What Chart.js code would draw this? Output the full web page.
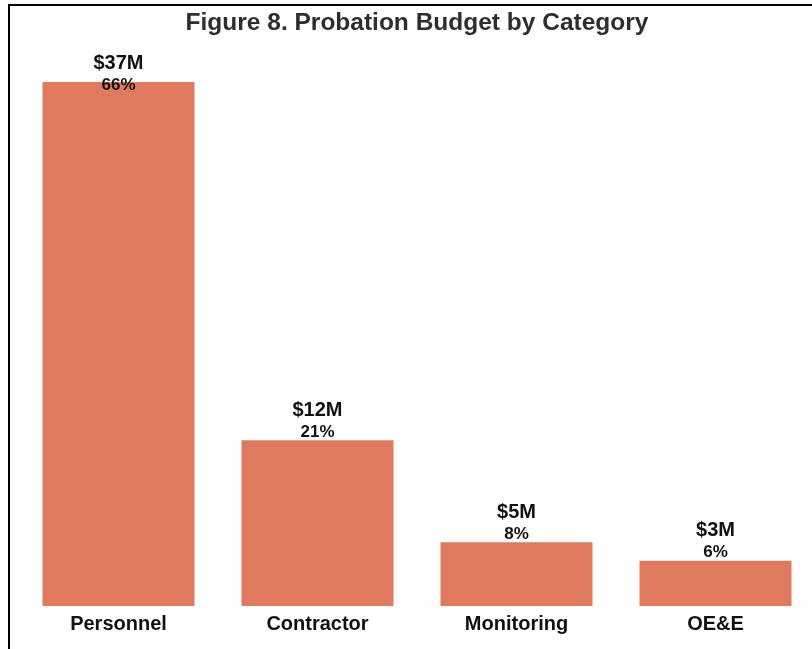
<!DOCTYPE html>
<html lang="en">
<head>
  <meta charset="UTF-8">
  <title>Probation Budget by Category</title>
  <script src="https://cdn.jsdelivr.net/npm/chart.js"></script>
  <style>
    html, body {
      margin: 0;
      padding: 0;
      background: #fff;
      overflow: hidden;
    }

    .frame {
      position: absolute;
      left: 8px;
      top: 4px;
      width: 830px;
      height: 660px;
      border-top: 2px solid #000;
      border-left: 2px solid #000;
    }
  </style>
</head>
<body>
  <div class="frame">
    <canvas id="chart" width="820" height="643"></canvas>
  </div>

  <script>
    const categories = ["Personnel", "Contractor", "Monitoring", "OE&E"];
    const amounts = [37.0, 11.7, 4.5, 3.2]; // $M
    const amountLabels = ["$37M", "$12M", "$5M", "$3M"];
    const shareLabels = ["66%", "21%", "8%", "6%"];

    const FONT = "'Liberation Sans', Arial, sans-serif";

    // two-line labels above each bar, kept inside the plot area
    const barLabels = {
      id: 'barLabels',
      afterDatasetsDraw(chart) {
        const ctx = chart.ctx;
        const bars = chart.getDatasetMeta(0).data;
        ctx.save();
        ctx.textAlign = 'center';
        ctx.textBaseline = 'middle';
        ctx.fillStyle = '#111';
        bars.forEach((bar, i) => {
          const y1 = Math.max(bar.y - 30, chart.chartArea.top + 7);
          ctx.font = "bold 20px " + FONT;
          ctx.fillText(amountLabels[i], bar.x, y1);
          ctx.font = "bold 17px " + FONT;
          ctx.fillText(shareLabels[i], bar.x, y1 + 22);
        });
        ctx.restore();
      }
    };

    new Chart(document.getElementById('chart'), {
      type: 'bar',
      data: {
        labels: categories,
        datasets: [{
          data: amounts,
          backgroundColor: '#DF7A5E',
          borderWidth: 0,
          barPercentage: 0.764,
          categoryPercentage: 1
        }]
      },
      options: {
        responsive: false,
        animation: false,
        layout: {
          padding: { left: 9, right: 15, top: 0, bottom: 7 }
        },
        plugins: {
          legend: { display: false },
          tooltip: { enabled: false },
          title: {
            display: true,
            text: 'Figure 8. Probation Budget by Category',
            color: '#2e2e2e',
            font: { family: FONT, size: 24.5, weight: 'bold' },
            padding: { top: 3, bottom: 18 }
          }
        },
        scales: {
          x: {
            grid: { display: false, drawTicks: false, tickLength: 0 },
            border: { display: false },
            ticks: {
              color: '#111',
              padding: 6,
              font: { family: FONT, size: 20, weight: 'bold' }
            }
          },
          y: {
            display: false,
            min: 0,
            max: 38.8
          }
        }
      },
      plugins: [barLabels]
    });
  </script>
</body>
</html>
